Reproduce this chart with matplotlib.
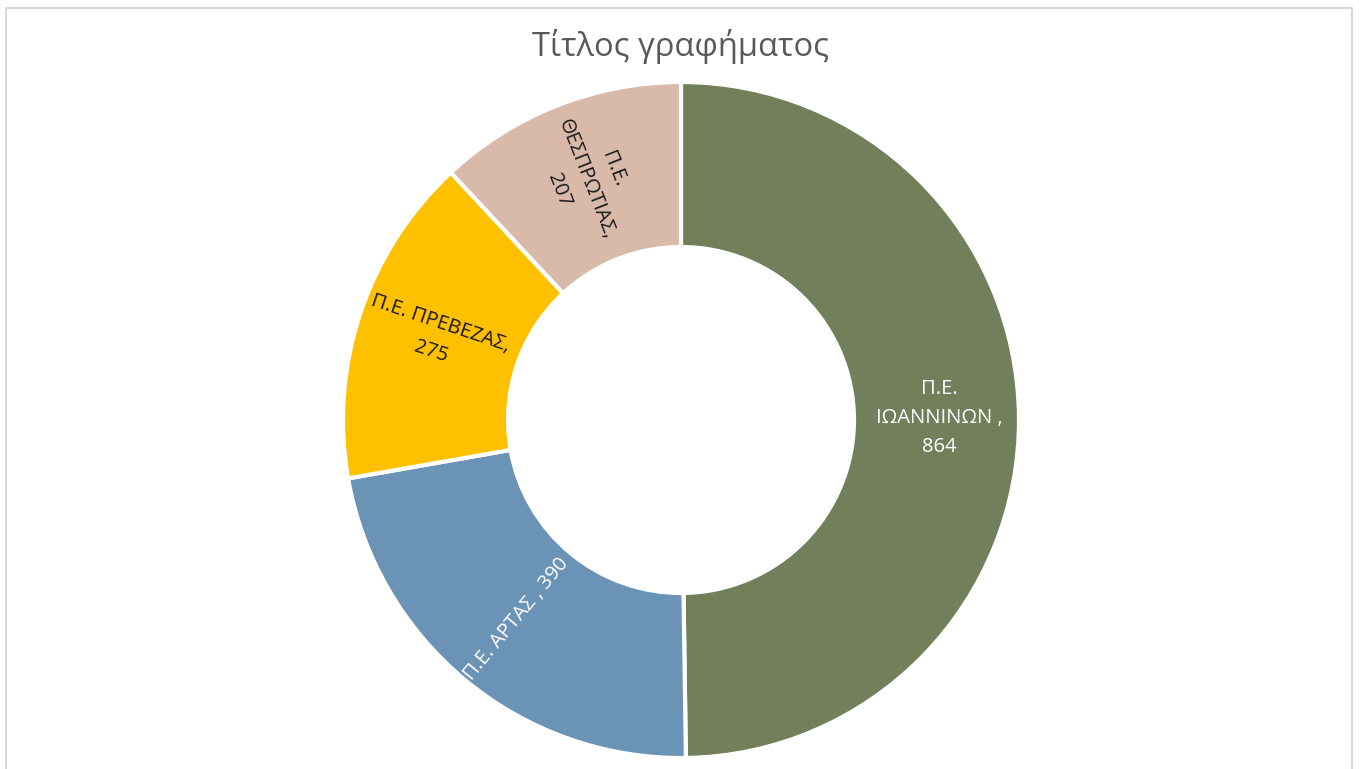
import numpy as np
import matplotlib
matplotlib.use("Agg")
import matplotlib.pyplot as plt
from matplotlib.lines import Line2D

plt.rcParams['font.family'] = ['Open Sans', 'DejaVu Sans']

# data
labels = ["Π.Ε.\nΙΩΑΝΝΙΝΩΝ ,\n864", "Π.Ε. ΑΡΤΑΣ , 390", "Π.Ε. ΠΡΕΒΕΖΑΣ,\n275", "Π.Ε.\nΘΕΣΠΡΩΤΙΑΣ,\n207"]
values = [864, 390, 275, 207]
colors = ["#737F5A", "#6A93B6", "#FFC000", "#D8B9AA"]
text_colors = ["white", "white", "#1a1a1a", "#1a1a1a"]
# label turned along the radius, except the big slice which stays flat
radial = [False, True, True, True]

W, H = 1359, 769
fig = plt.figure(figsize=(W / 100, H / 100), dpi=100)
ax = fig.add_axes([0, 0, 1, 1])
ax.set_xlim(0, W)
ax.set_ylim(0, H)
ax.set_aspect("equal")
ax.axis("off")

# chart area border (light grey, open at the bottom)
bc = "#d9d9d9"
ax.add_line(Line2D([6, 6, 1352, 1352], [0, H - 8, H - 8, 0], color=bc, lw=1.5))

cx, cy = 681, H - 420
R = 338
ring = 165
wedges, _ = ax.pie(values, colors=colors, startangle=90, counterclock=False,
                   center=(cx, cy), radius=R,
                   wedgeprops=dict(width=ring, edgecolor="white", linewidth=3))
ax.set_xlim(0, W)
ax.set_ylim(0, H)

rmid = R - ring / 2 + 3
for w, lab, tc, rad in zip(wedges, labels, text_colors, radial):
    ang = (w.theta1 + w.theta2) / 2
    a = np.deg2rad(ang)
    x = cx + rmid * np.cos(a)
    y = cy + rmid * np.sin(a)
    rot = ang if rad else 0
    rot = (rot + 90) % 180 - 90
    ax.text(x, y, lab, ha="center", va="center", rotation=rot,
            rotation_mode="anchor", color=tc, fontsize=14.5, linespacing=1.6)

ax.text(W / 2 + 1, H - 47, "Τίτλος γραφήματος", ha="center", va="center",
        fontsize=23.5, color="#595959")

fig.savefig("out.png", dpi=100)
